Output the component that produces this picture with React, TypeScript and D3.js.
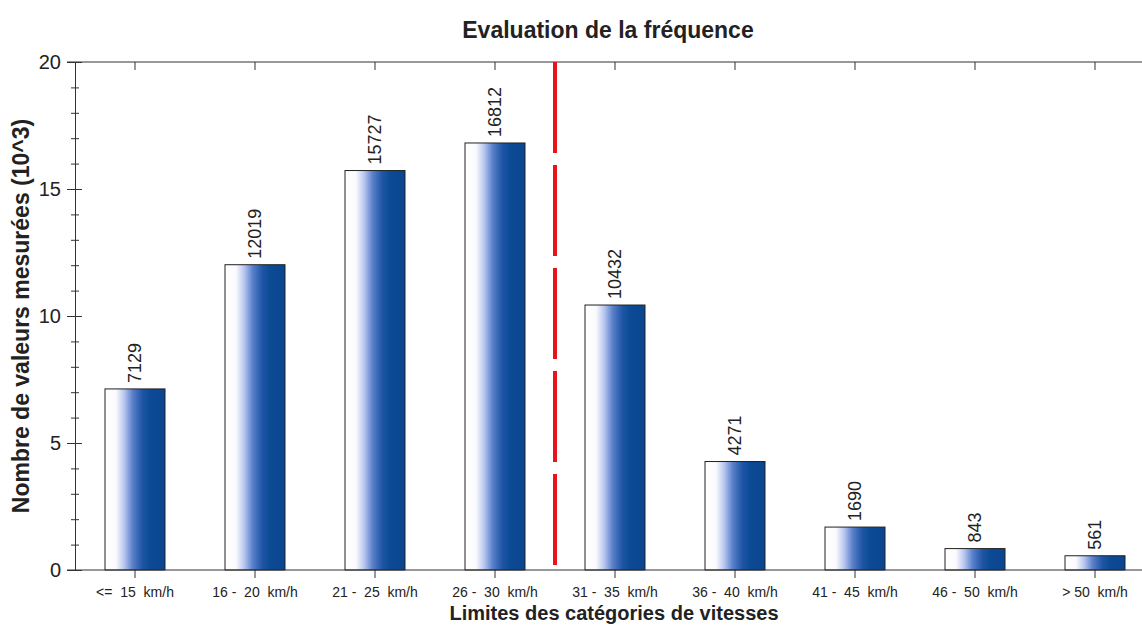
import * as d3 from "d3";
import { useEffect, useRef } from "react";

const categories = [
    "<=  15  km/h",
    "16 -  20  km/h",
    "21 -  25  km/h",
    "26 -  30  km/h",
    "31 -  35  km/h",
    "36 -  40  km/h",
    "41 -  45  km/h",
    "46 -  50  km/h",
    "> 50  km/h",
];
const counts = [7129, 12019, 15727, 16812, 10432, 4271, 1690, 843, 561];
const yTicks = [0, 5, 10, 15, 20];
const limitIndex = 4; // red dashed line sits before this category

const svgWidth = 1142;
const svgHeight = 631;
const marginLeft = 75;
const marginTop = 62;
const chartHeight = 508;
const bandStep = 120;

export default function App() {
    const svgRef = useRef<SVGSVGElement>(null);

    useEffect(() => {
        if (svgRef.current) {
            drawChart();
        }
    }, [svgRef]);

    const drawChart = () => {
        const svg = d3.select(svgRef.current);
        svg.selectAll("*").remove();

        const font = "'Liberation Sans', Arial, sans-serif";

        // gradient used for every bar
        const grad = svg
            .append("defs")
            .append("linearGradient")
            .attr("id", "barGrad")
            .attr("x1", "0%")
            .attr("x2", "100%")
            .attr("y1", "0%")
            .attr("y2", "0%");
        grad.append("stop").attr("offset", "0%").attr("stop-color", "#ffffff");
        grad.append("stop").attr("offset", "18%").attr("stop-color", "#fbfbfe");
        grad.append("stop").attr("offset", "32%").attr("stop-color", "#b8c6ef");
        grad.append("stop").attr("offset", "46%").attr("stop-color", "#5a80cc");
        grad.append("stop").attr("offset", "62%").attr("stop-color", "#1f56a6");
        grad.append("stop").attr("offset", "75%").attr("stop-color", "#0c4a95");
        grad.append("stop").attr("offset", "100%").attr("stop-color", "#0a4690");

        const scaleX = d3
            .scaleBand()
            .domain(categories)
            .range([marginLeft, marginLeft + bandStep * categories.length])
            .paddingInner(0.5)
            .paddingOuter(0.25);
        const scaleY = d3
            .scaleLinear()
            .domain([0, 20])
            .range([marginTop + chartHeight, marginTop]);

        const chart = svg.append("g");

        // top frame line with ticks
        chart
            .append("g")
            .attr("transform", "translate(0," + marginTop + ")")
            .call(
                d3
                    .axisTop(scaleX)
                    .tickSizeInner(-8)
                    .tickSizeOuter(0)
                    .tickFormat(() => "")
            )
            .call((g) => g.select(".domain").attr("d", `M${marginLeft - 8},0H${svgWidth}`))
            .attr("color", "#333");

        // bars
        const data = categories.map((c, i) => ({ c, v: counts[i] / 1000, n: counts[i] }));
        chart
            .selectAll("rect.bar")
            .data(data)
            .enter()
            .append("rect")
            .attr("class", "bar")
            .attr("x", (d) => scaleX(d.c)!)
            .attr("width", scaleX.bandwidth())
            .attr("y", (d) => scaleY(d.v))
            .attr("height", (d) => scaleY(0) - scaleY(d.v))
            .attr("fill", "url(#barGrad)")
            .attr("stroke", "#222")
            .attr("stroke-width", 1);

        // value labels
        chart
            .selectAll("text.val")
            .data(data)
            .enter()
            .append("text")
            .attr("class", "val")
            .attr(
                "transform",
                (d) =>
                    "translate(" +
                    (scaleX(d.c)! + scaleX.bandwidth() / 2) +
                    "," +
                    (scaleY(d.v) - 6) +
                    ") rotate(-90)"
            )
            .attr("dy", "0.36em")
            .attr("font-family", font)
            .attr("font-size", 18)
            .attr("fill", "#222")
            .text((d) => d.n);

        // red dashed limit line
        const limitX = scaleX(categories[limitIndex])! - (scaleX.step() * scaleX.paddingInner()) / 2;
        chart
            .append("line")
            .attr("x1", limitX)
            .attr("x2", limitX)
            .attr("y1", scaleY(20))
            .attr("y2", scaleY(0))
            .attr("stroke", "#e8141c")
            .attr("stroke-width", 4)
            .attr("stroke-dasharray", "91,12");

        // x axis
        const xAxis = chart
            .append("g")
            .attr("transform", "translate(0," + scaleY(0) + ")")
            .call(d3.axisBottom(scaleX).tickSizeInner(8).tickSizeOuter(0).tickPadding(9))
            .call((g) => g.select(".domain").attr("d", `M${marginLeft - 8},0H${svgWidth}`))
            .attr("color", "#333");
        xAxis
            .selectAll("text")
            .attr("font-family", font)
            .attr("font-size", 14)
            .attr("fill", "#222")
            .style("white-space", "pre");

        // y axis, minor ticks first
        chart
            .append("g")
            .attr("transform", "translate(" + (marginLeft + 4) + ",0)")
            .call(
                d3
                    .axisLeft(scaleY)
                    .tickValues(d3.range(0, 21, 1))
                    .tickSizeInner(8)
                    .tickSizeOuter(0)
                    .tickFormat(() => "")
            )
            .call((g) => g.select(".domain").remove())
            .attr("color", "#333");
        const yAxis = chart
            .append("g")
            .attr("transform", "translate(" + marginLeft + ",0)")
            .call(
                d3
                    .axisLeft(scaleY)
                    .tickValues(yTicks)
                    .tickSizeInner(8)
                    .tickSizeOuter(0)
                    .tickPadding(6)
            )
            .attr("color", "#333");
        yAxis.selectAll(".tick line").attr("x2", -8).attr("x1", 7);
        yAxis
            .selectAll("text")
            .attr("font-family", font)
            .attr("font-size", 20)
            .attr("fill", "#222");

        // title and axis labels
        svg.append("text")
            .attr("x", 608)
            .attr("y", 38)
            .attr("text-anchor", "middle")
            .attr("font-family", font)
            .attr("font-weight", "bold")
            .attr("font-size", 23)
            .attr("fill", "#222")
            .text("Evaluation de la fréquence");
        svg.append("text")
            .attr("x", 614)
            .attr("y", 620)
            .attr("text-anchor", "middle")
            .attr("font-family", font)
            .attr("font-weight", "bold")
            .attr("font-size", 20)
            .attr("fill", "#222")
            .text("Limites des catégories de vitesses");
        svg.append("text")
            .attr("transform", "translate(29,316) rotate(-90)")
            .attr("text-anchor", "middle")
            .attr("font-family", font)
            .attr("font-weight", "bold")
            .attr("font-size", 23)
            .attr("fill", "#222")
            .text("Nombre de valeurs mesurées (10^3)");
    };

    return (
        <div style={{ position: "absolute", left: 0, top: 0 }}>
            <svg ref={svgRef} width={svgWidth} height={svgHeight} style={{ display: "block", background: "#fff" }} />
        </div>
    );
}
